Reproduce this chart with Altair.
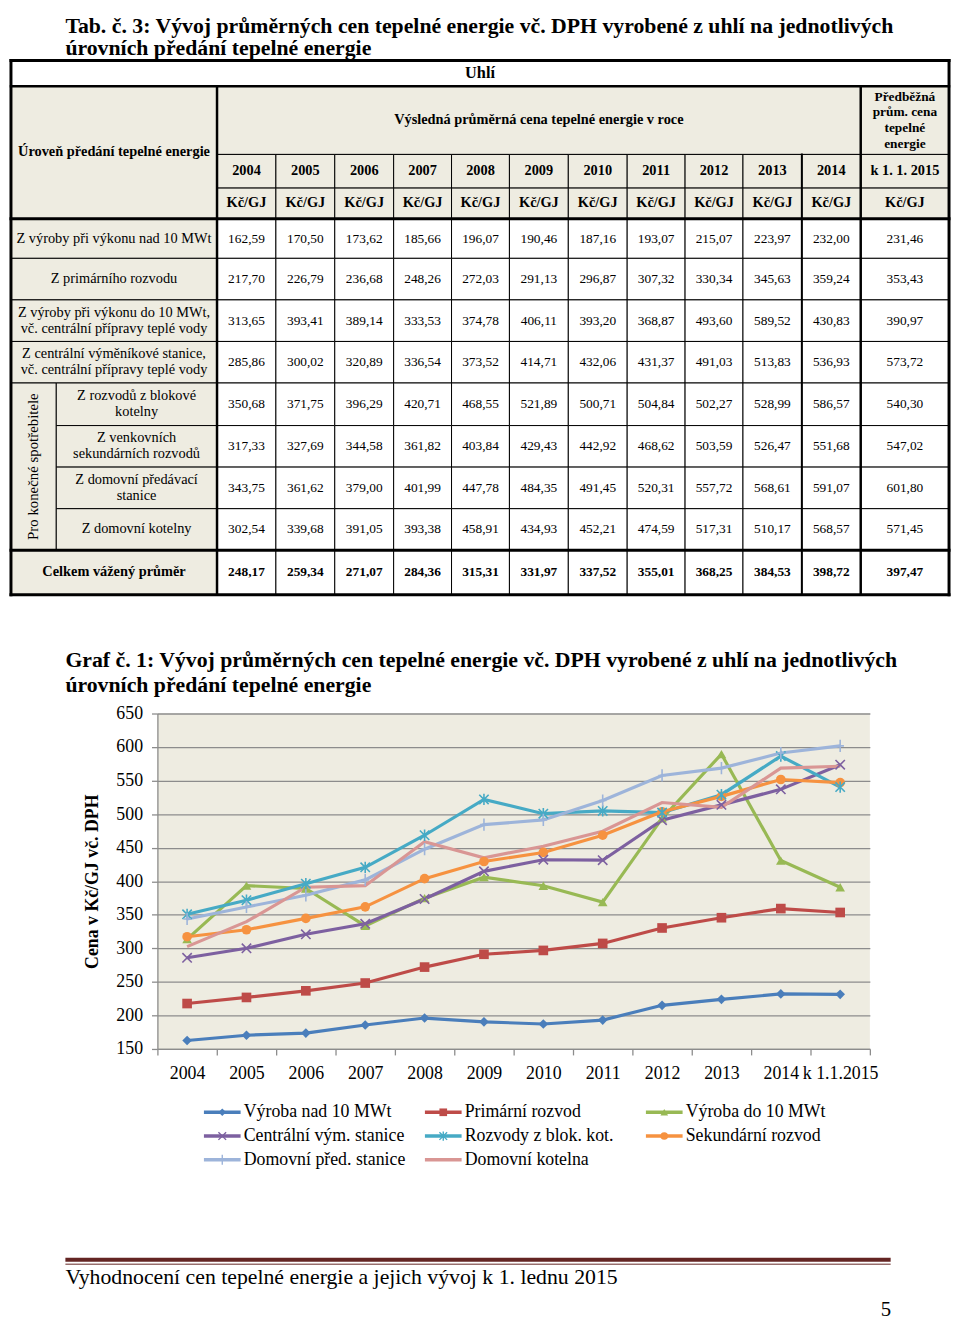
import altair as alt
import pandas as pd

FONT = "Liberation Serif"
BEIGE = "#EEECE1"
DARKRED = "#632523"

# ---------------- data ----------------
page_title = ["Tab. č. 3: Vývoj průměrných cen tepelné energie vč. DPH vyrobené z uhlí na jednotlivých",
              "úrovních předání tepelné energie"]
years = ["2004", "2005", "2006", "2007", "2008", "2009", "2010", "2011", "2012", "2013", "2014"]
prelim_header = "k 1. 1. 2015"
chart_x_labels = years + ["k 1.1.2015"]
unit = "Kč/GJ"

row_labels = [
    "Z výroby při výkonu nad 10 MWt",
    "Z primárního rozvodu",
    "Z výroby při výkonu do 10 MWt,\nvč. centrální přípravy teplé vody",
    "Z centrální výměníkové stanice,\nvč. centrální přípravy teplé vody",
    "Z rozvodů z blokové\nkotelny",
    "Z venkovních\nsekundárních rozvodů",
    "Z domovní předávací\nstanice",
    "Z domovní kotelny",
    "Celkem vážený průměr",
]
group_label = "Pro konečné spotřebitele"

v_nad10 = [162.59, 170.50, 173.62, 185.66, 196.07, 190.46, 187.16, 193.07, 215.07, 223.97, 232.00, 231.46]
v_prim = [217.70, 226.79, 236.68, 248.26, 272.03, 291.13, 296.87, 307.32, 330.34, 345.63, 359.24, 353.43]
v_do10 = [313.65, 393.41, 389.14, 333.53, 374.78, 406.11, 393.20, 368.87, 493.60, 589.52, 430.83, 390.97]
v_cvs = [285.86, 300.02, 320.89, 336.54, 373.52, 414.71, 432.06, 431.37, 491.03, 513.83, 536.93, 573.72]
v_blok = [350.68, 371.75, 396.29, 420.71, 468.55, 521.89, 500.71, 504.84, 502.27, 528.99, 586.57, 540.30]
v_sek = [317.33, 327.69, 344.58, 361.82, 403.84, 429.43, 442.92, 468.62, 503.59, 526.47, 551.68, 547.02]
v_dps = [343.75, 361.62, 379.00, 401.99, 447.78, 484.35, 491.45, 520.31, 557.72, 568.61, 591.07, 601.80]
v_dk = [302.54, 339.68, 391.05, 393.38, 458.91, 434.93, 452.21, 474.59, 517.31, 510.17, 568.57, 571.45]
v_total = [248.17, 259.34, 271.07, 284.36, 315.31, 331.97, 337.52, 355.01, 368.25, 384.53, 398.72, 397.47]

table_rows = [v_nad10, v_prim, v_do10, v_cvs, v_blok, v_sek, v_dps, v_dk, v_total]

series_names = [
    "Výroba nad 10 MWt", "Primární rozvod", "Výroba do 10 MWt",
    "Centrální vým. stanice", "Rozvody z blok. kot.", "Sekundární rozvod",
    "Domovní před. stanice", "Domovní kotelna",
]
series_values = [v_nad10, v_prim, v_do10, v_cvs, v_blok, v_sek, v_dps, v_dk]

# ---------------- styles ----------------
series_colors = ["#4A7EBB", "#BE4B48", "#98B954", "#7D60A0", "#46AAC5", "#F69240", "#9DB4DA", "#D99694"]
X_PATH = "M-1,-1L1,1M-1,1L1,-1"
AST_PATH = "M-1,-1L1,1M-1,1L1,-1M0,-1.2L0,1.2"
PLUS_PATH = "M0,-1.3L0,1.3M-0.8,0L0.8,0"
series_shapes = ["diamond", "square", "triangle-up", X_PATH, AST_PATH, "circle", PLUS_PATH, "circle"]
filled_series = [series_names[i] for i in (0, 1, 2, 5)]
stroked_series = [series_names[i] for i in (3, 4, 6)]

color_scale = alt.Scale(domain=series_names, range=series_colors)
shape_scale = alt.Scale(domain=series_names, range=series_shapes)


def fmt(v):
    return f"{v:.2f}".replace(".", ",")


# ---------------- table layout (units = reference px) ----------------
col_w = [210, 60, 60, 60, 59, 59, 60, 60, 59, 59, 60, 60, 90]
stub_w = 46
row_h = [26, 69, 34, 31, 40, 42, 42, 42, 43, 42, 42, 42, 45]
LH = 16
col_edges = [0]
for w in col_w:
    col_edges.append(col_edges[-1] + w)
row_edges = [0]
for h in row_h:
    row_edges.append(row_edges[-1] + h)
TW, TH = col_edges[-1], row_edges[-1]
TABLE_W, TABLE_H = 948, 540

cells = []


def add(x0, x1, r0, r1, text, fill, bold=False, size=14.5, angle=0):
    y0, y1 = row_edges[r0], row_edges[r1]
    n = text.count("\n")
    cells.append(dict(x0=x0, x1=x1, y0=y0, y1=y1, xm=(x0 + x1) / 2,
                      ym=(y0 + y1) / 2 - n * LH / 2 * TH / TABLE_H,
                      text=text, fill=fill, bold=bold, size=size, angle=angle))


add(0, TW, 0, 1, "Uhlí", "white", True, 16.5)
add(0, col_edges[1], 1, 4, "Úroveň předání tepelné energie", BEIGE, True, 14.5)
add(col_edges[1], col_edges[12], 1, 2, "Výsledná průměrná cena tepelné energie v roce", BEIGE, True, 14.5)
add(col_edges[12], col_edges[13], 1, 2, "Předběžná\nprům. cena\ntepelné\nenergie", BEIGE, True, 13.5)
for i, y in enumerate(years):
    add(col_edges[1 + i], col_edges[2 + i], 2, 3, y, BEIGE, True, 14.5)
add(col_edges[12], col_edges[13], 2, 3, prelim_header, BEIGE, True, 14.5)
for i in range(12):
    add(col_edges[1 + i], col_edges[2 + i], 3, 4, unit, BEIGE, True, 14.5)
for r, (lab, vals) in enumerate(zip(row_labels, table_rows)):
    tr = 4 + r
    bold = r == 8
    if 4 <= r <= 7:
        add(stub_w, col_edges[1], tr, tr + 1, lab, BEIGE, bold, 14.5)
    else:
        add(0, col_edges[1], tr, tr + 1, lab, BEIGE, bold, 14.5)
    for j, v in enumerate(vals):
        add(col_edges[1 + j], col_edges[2 + j], tr, tr + 1, fmt(v), "white", bold, 13.5)
add(0, stub_w, 8, 12, group_label, BEIGE, False, 15, 270)

cdf = pd.DataFrame(cells)

segs = pd.DataFrame([
    dict(x0=0, y0=0, x1=TW, y1=0, w=3),
    dict(x0=0, y0=TH, x1=TW, y1=TH, w=3),
    dict(x0=0, y0=0, x1=0, y1=TH, w=3),
    dict(x0=TW, y0=0, x1=TW, y1=TH, w=3),
    dict(x0=0, y0=row_edges[1], x1=TW, y1=row_edges[1], w=2.5),
    dict(x0=0, y0=row_edges[4], x1=TW, y1=row_edges[4], w=3),
    dict(x0=0, y0=row_edges[12], x1=TW, y1=row_edges[12], w=3),
    dict(x0=col_edges[1], y0=row_edges[1], x1=col_edges[1], y1=TH, w=2.5),
    dict(x0=col_edges[11], y0=row_edges[2], x1=col_edges[11], y1=TH, w=2),
    dict(x0=col_edges[12], y0=row_edges[1], x1=col_edges[12], y1=TH, w=2.5),
])

txs = alt.Scale(domain=[0, TW], nice=False, zero=False)
tys = alt.Scale(domain=[0, TH], nice=False, zero=False, reverse=True)

t_rects = alt.Chart(cdf).mark_rect(stroke="black", strokeWidth=1).encode(
    x=alt.X("x0:Q", scale=txs, axis=None), x2="x1:Q",
    y=alt.Y("y0:Q", scale=tys, axis=None), y2="y1:Q",
    fill=alt.Fill("fill:N", scale=None),
)
t_lines = alt.Chart(segs).mark_rule(color="black", strokeCap="square").encode(
    x=alt.X("x0:Q", scale=txs, axis=None), x2="x1:Q",
    y=alt.Y("y0:Q", scale=tys, axis=None), y2="y1:Q",
    size=alt.Size("w:Q", scale=None),
)
text_enc = dict(
    x=alt.X("xm:Q", scale=txs, axis=None),
    y=alt.Y("ym:Q", scale=tys, axis=None),
    text="text:N",
    size=alt.Size("size:Q", scale=None),
    angle=alt.Angle("angle:Q", scale=None),
)
t_text_n = alt.Chart(cdf).mark_text(font=FONT, color="black", lineBreak="\n", lineHeight=LH,
                                    align="center", baseline="middle").encode(**text_enc).transform_filter("!datum.bold")
t_text_b = alt.Chart(cdf).mark_text(font=FONT, color="black", lineBreak="\n", lineHeight=LH, fontWeight="bold",
                                    align="center", baseline="middle").encode(**text_enc).transform_filter("datum.bold")

one = pd.DataFrame({"a": [0]})
title_marks = [
    alt.Chart(one).mark_text(font=FONT, fontSize=22, fontWeight="bold", color="black",
                             align="left", baseline="middle").encode(
        x=alt.value(55), y=alt.value(yy), text=alt.value(line))
    for line, yy in zip(page_title, [-35, -12])
]

table = alt.layer(t_rects, t_lines, t_text_n, t_text_b, *title_marks).properties(
    width=TABLE_W, height=TABLE_H,
)

# ---------------- line chart ----------------
rows = []
for sname, vals in zip(series_names, series_values):
    for j, v in enumerate(vals):
        rows.append(dict(series=sname, xlab=chart_x_labels[j], value=v))
ldf = pd.DataFrame(rows)

GRAY = "#8C8C8C"
x_enc = alt.X(
    "xlab:N",
    scale=alt.Scale(type="band", domain=chart_x_labels, paddingInner=0, paddingOuter=0),
    bandPosition=0.5,
    axis=alt.Axis(title=None, labelAngle=0, tickBand="extent", tickSize=6, tickColor=GRAY,
                  domainColor=GRAY, domainWidth=1.3, tickWidth=1.3, labelFont=FONT, labelFontSize=18,
                  labelColor="black", labelPadding=10, grid=False),
)
y_enc = alt.Y(
    "value:Q",
    scale=alt.Scale(domain=[150, 650], nice=False, zero=False),
    axis=alt.Axis(values=list(range(150, 651, 50)), grid=True, gridColor=GRAY, gridWidth=1.3,
                  tickSize=6, tickColor=GRAY, tickWidth=1.3, domainColor=GRAY, domainWidth=1.3,
                  labelFont=FONT, labelFontSize=18, labelColor="black", labelPadding=9,
                  title="Cena v Kč/GJ vč. DPH", titleFont=FONT, titleFontSize=18,
                  titleFontWeight="bold", titleColor="black", titlePadding=15),
)
color_enc = alt.Color("series:N", scale=color_scale, legend=None)
shape_enc = alt.Shape("series:N", scale=shape_scale, legend=None)

lines = alt.Chart(ldf).mark_line(strokeWidth=3.2).encode(x=x_enc, y=y_enc, color=color_enc)
pts_f = alt.Chart(ldf).transform_filter(
    alt.FieldOneOfPredicate(field="series", oneOf=filled_series)
).mark_point(filled=True, size=95, opacity=1).encode(x=x_enc, y=y_enc, color=color_enc, shape=shape_enc)
pts_s = alt.Chart(ldf).transform_filter(
    alt.FieldOneOfPredicate(field="series", oneOf=stroked_series)
).mark_point(filled=False, size=90, strokeWidth=1.6, opacity=1).encode(x=x_enc, y=y_enc, color=color_enc, shape=shape_enc)

line_chart = alt.layer(lines, pts_f, pts_s).properties(
    width=720, height=339,
    view=alt.ViewBackground(fill=BEIGE, stroke=None),
    title=alt.Title(
        ["Graf č. 1: Vývoj průměrných cen tepelné energie vč. DPH vyrobené z uhlí na jednotlivých",
         "úrovních předání tepelné energie"],
        anchor="start", frame="group", dx=-93, offset=8, font=FONT, fontSize=22,
        fontWeight="bold", lineHeight=25, color="black",
    ),
)


def blank(h, w=10):
    return alt.Chart(pd.DataFrame({"a": [0]})).mark_point(opacity=0, size=0).encode(
        x=alt.value(0), y=alt.value(0)).properties(width=w, height=h)


chart_row = alt.hconcat(blank(339, 148), line_chart, spacing=0, bounds="flush")

# ---------------- legend ----------------
SEG = 0.166
TXT = 0.18
leg = pd.DataFrame({
    "series": series_names,
    "col": [i % 3 for i in range(len(series_names))],
    "row": [i // 3 for i in range(len(series_names))],
})
leg["x0"] = leg["col"]
leg["x1"] = leg["col"] + SEG
leg["xm"] = leg["col"] + SEG / 2
leg["xt"] = leg["col"] + TXT
lxs = alt.Scale(domain=[0, 3], nice=False, zero=False)
lys = alt.Scale(domain=[-0.5, 2.5], nice=False, zero=False, reverse=True)
ly = alt.Y("row:Q", scale=lys, axis=None)

leg_rules = alt.Chart(leg).mark_rule(strokeWidth=3.5).encode(
    x=alt.X("x0:Q", scale=lxs, axis=None), x2="x1:Q", y=ly, color=color_enc)
leg_pf = alt.Chart(leg).transform_filter(
    alt.FieldOneOfPredicate(field="series", oneOf=filled_series)
).mark_point(filled=True, size=60, opacity=1).encode(
    x=alt.X("xm:Q", scale=lxs, axis=None), y=ly, color=color_enc, shape=shape_enc)
leg_ps = alt.Chart(leg).transform_filter(
    alt.FieldOneOfPredicate(field="series", oneOf=stroked_series)
).mark_point(filled=False, size=60, strokeWidth=1.4, opacity=1).encode(
    x=alt.X("xm:Q", scale=lxs, axis=None), y=ly, color=color_enc, shape=shape_enc)
leg_txt = alt.Chart(leg).mark_text(font=FONT, fontSize=18, color="black", align="left", baseline="middle").encode(
    x=alt.X("xt:Q", scale=lxs, axis=None), y=ly, text="series:N")

legend_chart = alt.layer(leg_rules, leg_pf, leg_ps, leg_txt).properties(width=670, height=72)
legend_row = alt.hconcat(blank(72, 195), legend_chart, spacing=0, bounds="flush")

# ---------------- footer ----------------
footer = alt.layer(
    alt.Chart(one).mark_rule(color=DARKRED, strokeWidth=4).encode(x=alt.value(55), x2=alt.value(889), y=alt.value(4)),
    alt.Chart(one).mark_rule(color=DARKRED, strokeWidth=1).encode(x=alt.value(55), x2=alt.value(889), y=alt.value(8.5)),
    alt.Chart(one).mark_text(font=FONT, fontSize=22, color="black", align="left", baseline="middle").encode(
        x=alt.value(55), y=alt.value(22),
        text=alt.value("Vyhodnocení cen tepelné energie a jejich vývoj k 1. lednu 2015")),
    alt.Chart(one).mark_text(font=FONT, fontSize=21, color="black", align="left", baseline="middle").encode(
        x=alt.value(879), y=alt.value(55), text=alt.value("5")),
).properties(width=948, height=62)

chart = alt.vconcat(
    table, blank(52), chart_row, blank(18), legend_row, blank(85), footer,
    spacing=0,
).properties(padding=0).configure(font=FONT, background="white").configure_view(stroke=None)

chart.save("out.html", embed_options={"renderer": "svg", "actions": False})
